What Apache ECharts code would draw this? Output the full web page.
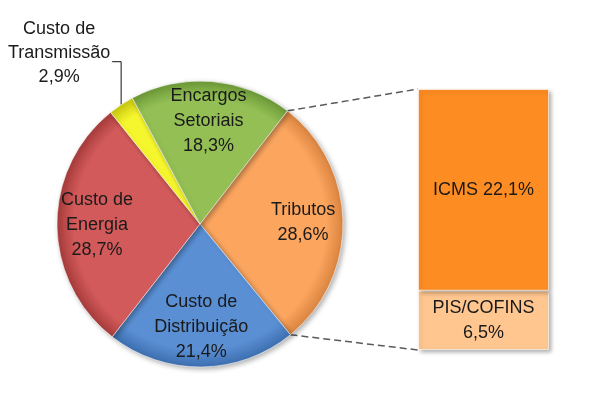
<!DOCTYPE html>
<html>
<head>
<meta charset="utf-8">
<script src="https://cdn.jsdelivr.net/npm/echarts@6/dist/echarts.min.js"></script>
<style>
  html, body { margin: 0; background: #fff; }
  #chart { width: 613px; height: 396px; }
</style>
</head>
<body>
<div id="chart"></div>
<script>
// dados da pizza (ordem horária a partir de Tributos)
var pieNames = ['Tributos', 'Custo de\nDistribuição', 'Custo de\nEnergia', 'Custo de\nTransmissão', 'Encargos\nSetoriais'];
var pieValues = [28.6, 21.4, 28.7, 2.9, 18.3];
// dados da barra (detalhe de Tributos)
var barNames = ['PIS/COFINS', 'ICMS'];
var barValues = [6.5, 22.1];

var pieColors = ['#FBA55F', '#5A8FD4', '#D35A5A', '#F6F62E', '#93BF55'];
var pieEdges = ['#D9843F', '#3D6FB0', '#A83C3C', '#C9C910', '#6E9A38'];
var barColors = ['#FFC690', '#FD8C22'];

var FONT = '"Liberation Sans", Arial, sans-serif';
var FS = 18;
var cx = 200, cy = 224, R = 143, startAngle = 52.3;
var gridL = 418, gridT = 89, gridW = 131, gridH = 261;

function pct(v) { return v.toFixed(1).replace('.', ',') + '%'; }

var pieTotal = pieValues.reduce(function (a, b) { return a + b; }, 0);
var tribTotal = barValues.reduce(function (a, b) { return a + b; }, 0);

function shade(i) {
    return {
        type: 'radial', x: cx, y: cy, r: R, global: true,
        colorStops: [
            { offset: 0, color: pieColors[i] },
            { offset: 0.88, color: pieColors[i] },
            { offset: 1, color: pieEdges[i] }
        ]
    };
}

// ângulo do meio de cada fatia
function midAngle(idx) {
    var acc = 0;
    for (var i = 0; i < idx; i++) acc += pieValues[i];
    acc += pieValues[idx] / 2;
    return (startAngle - acc / pieTotal * 360) * Math.PI / 180;
}

var TRANS = 3;

var chart = echarts.init(document.getElementById('chart'));

var option = {
    animation: false,
    backgroundColor: '#fff',
    grid: { left: gridL, top: gridT, width: gridW, height: gridH },
    xAxis: { type: 'category', data: ['Tributos'], show: false },
    yAxis: { type: 'value', min: 0, max: tribTotal, show: false },
    series: [
        {
            type: 'pie',
            center: [cx, cy],
            radius: [0, R],
            startAngle: startAngle,
            clockwise: true,
            avoidLabelOverlap: false,
            itemStyle: {
                borderColor: 'rgba(255,255,255,0.55)', borderWidth: 1,
                shadowBlur: 5, shadowColor: 'rgba(0,0,0,0.3)', shadowOffsetX: 2, shadowOffsetY: 2
            },
            label: { show: false },
            labelLine: { show: false },
            data: pieValues.map(function (v, i) {
                var item = { name: pieNames[i], value: v, itemStyle: { color: shade(i) } };
                if (i === TRANS) {
                    item.label = {
                        show: true, position: 'outside',
                        formatter: function (p) { return p.name + '\n' + pct(p.value); },
                        fontFamily: FONT, fontSize: FS, lineHeight: 24, color: '#1a1a1a', align: 'center'
                    };
                    item.labelLine = { show: true, lineStyle: { color: '#111', width: 1 } };
                }
                return item;
            }),
            labelLayout: function (params) {
                if (params.dataIndex !== TRANS) return {};
                var a = midAngle(TRANS);
                var p = [cx + R * Math.cos(a), cy - R * Math.sin(a)];
                return {
                    x: p[0] - 62, y: p[1] - 52,
                    align: 'center', verticalAlign: 'middle',
                    labelLinePoints: [p, [p[0], p[1] - 43], [p[0] - 9, p[1] - 43]]
                };
            }
        },
        {
            // anel transparente só para posicionar os rótulos internos
            type: 'pie',
            center: [cx, cy],
            radius: [R * 0.4, R],
            startAngle: startAngle,
            clockwise: true,
            silent: true,
            z: 3,
            itemStyle: { color: 'rgba(0,0,0,0)' },
            label: {
                show: true, position: 'inside',
                formatter: function (p) { return p.dataIndex === TRANS ? '' : p.name + '\n' + pct(p.value); },
                fontFamily: FONT, fontSize: FS, lineHeight: 25, color: '#1a1a1a'
            },
            labelLine: { show: false },
            data: pieValues.map(function (v, i) { return { name: pieNames[i], value: v }; })
        }
    ].concat(barValues.map(function (v, i) {
        return {
            type: 'bar', stack: 'trib', name: barNames[i],
            barWidth: '100%',
            itemStyle: {
                color: barColors[i], borderColor: 'rgba(255,255,255,0.6)', borderWidth: 1,
                shadowBlur: 4, shadowColor: 'rgba(0,0,0,0.3)', shadowOffsetX: 2, shadowOffsetY: 2
            },
            label: {
                show: true, position: 'inside',
                formatter: i === 0 ? barNames[i] + '\n' + pct(v) : barNames[i] + ' ' + pct(v),
                fontFamily: FONT, fontSize: FS, lineHeight: 25, color: '#1a1a1a'
            },
            data: [v]
        };
    }))
};

chart.setOption(option);

// linhas tracejadas ligando a fatia Tributos à barra
var a0 = startAngle * Math.PI / 180;
var a1 = (startAngle - pieValues[0] / pieTotal * 360) * Math.PI / 180;
var barTop = chart.convertToPixel({ yAxisIndex: 0 }, tribTotal);
var barBot = chart.convertToPixel({ yAxisIndex: 0 }, 0);
var dash = { stroke: '#5a5a5a', lineWidth: 1.5, lineDash: [7, 4] };
chart.setOption({
    graphic: [
        { type: 'line', z: 1, shape: { x1: cx + R * Math.cos(a0), y1: cy - R * Math.sin(a0), x2: gridL, y2: barTop }, style: dash },
        { type: 'line', z: 1, shape: { x1: cx + R * Math.cos(a1), y1: cy - R * Math.sin(a1), x2: gridL, y2: barBot }, style: dash }
    ]
});
</script>
</body>
</html>
